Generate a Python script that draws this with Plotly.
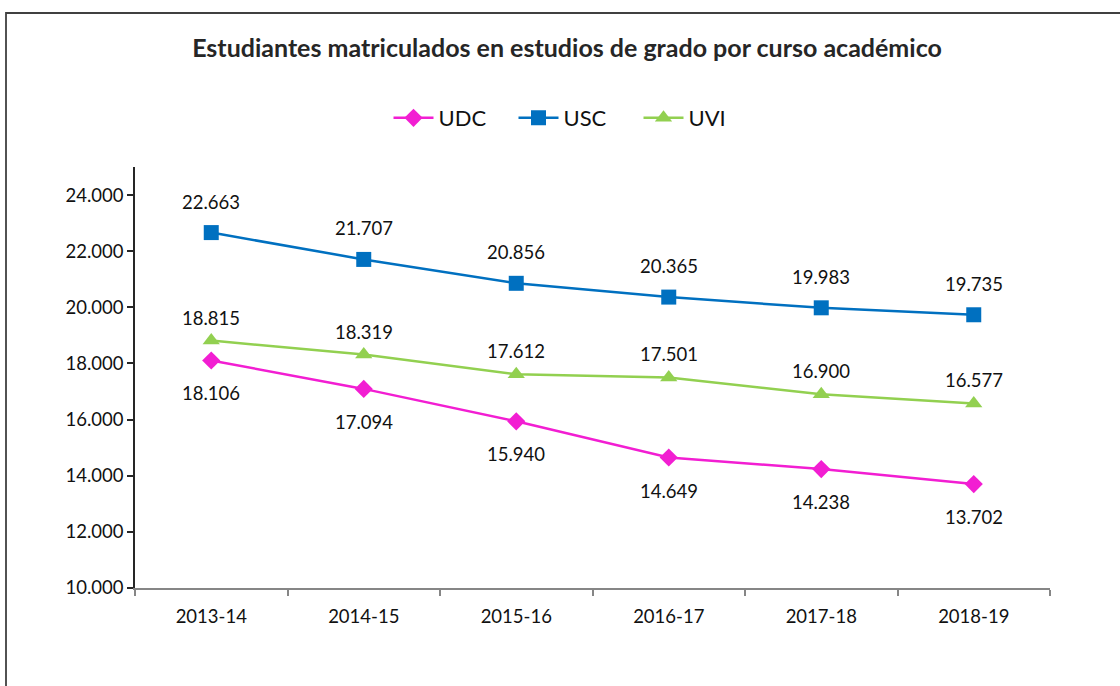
import plotly.graph_objects as go

categories = ["2013-14", "2014-15", "2015-16", "2016-17", "2017-18", "2018-19"]
udc = [18106, 17094, 15940, 14649, 14238, 13702]
usc = [22663, 21707, 20856, 20365, 19983, 19735]
uvi = [18815, 18319, 17612, 17501, 16900, 16577]
y_ticks = [10000, 12000, 14000, 16000, 18000, 20000, 22000, 24000]

FONT = "Lato"
W, H = 1120, 686
ML, MR, MT, MB = 135, 70, 167, 98

series = [
    ("UDC", udc, "#F21ED2", "diamond", 14, -33),
    ("USC", usc, "#0070C0", "square", 15, 31),
    ("UVI", uvi, "#92D050", "triangle-up", 15, 23),
]

fig = go.Figure()
annotations = []
for name, vals, color, sym, msize, shift in series:
    fig.add_trace(go.Scatter(
        x=categories, y=vals, name=name, mode="lines+markers",
        line=dict(color=color, width=2.5),
        marker=dict(symbol=sym, size=msize, color=color),
    ))
    for c, v in zip(categories, vals):
        annotations.append(dict(
            x=c, y=v, xref="x", yref="y", text=f"{v:,}".replace(",", "."),
            showarrow=False, yshift=shift,
            font=dict(family=FONT, size=18.5, color="#111111"),
        ))

pw = W - ML - MR
ph = H - MT - MB
frame = dict(
    type="rect", xref="paper", yref="paper",
    x0=(6 - ML) / pw, x1=(W + 20 - ML) / pw,
    y0=(H - MB - (H + 20)) / ph, y1=(H - MB - 13) / ph,
    line=dict(color="#404040", width=1.8), fillcolor="rgba(0,0,0,0)",
)

fig.update_layout(
    width=W, height=H,
    margin=dict(l=ML, r=MR, t=MT, b=MB),
    paper_bgcolor="white", plot_bgcolor="white",
    separators=",.",
    title=dict(
        text="<b>Estudiantes matriculados en estudios de grado por curso académico</b>",
        x=0.5 + 7 / W, xref="container", xanchor="center",
        y=1 - 48 / H, yref="container", yanchor="middle",
        font=dict(family=FONT, size=25, color="#262626"),
    ),
    legend=dict(
        orientation="h", xref="container", x=0.5 + 16 / W, xanchor="center",
        yref="container", y=1 - 118 / H, yanchor="middle",
        font=dict(family=FONT, size=22, color="#111111"),
        itemwidth=40, entrywidth=70, entrywidthmode="pixels",
    ),
    showlegend=True,
    annotations=annotations,
    shapes=[frame],
    font=dict(family=FONT, color="#111111"),
)

fig.update_xaxes(
    type="category", range=[-0.5, 5.5],
    showline=True, linecolor="#868686", linewidth=1.5,
    ticks="outside", tickson="boundaries", ticklen=6, tickcolor="#868686", tickwidth=1.5,
    showgrid=False, zeroline=False,
    tickfont=dict(family=FONT, size=18.5, color="#111111"),
    ticklabelstandoff=11,
)
fig.update_yaxes(
    range=[10000, 25000],
    tickvals=y_ticks, tickformat=",.0f",
    showline=True, linecolor="#262626", linewidth=1.5,
    ticks="outside", ticklen=6, tickcolor="#262626", tickwidth=1.5,
    showgrid=False, zeroline=False,
    tickfont=dict(family=FONT, size=18.5, color="#111111"),
    ticklabelstandoff=0,
)

fig.write_html("out.html", config={"displayModeBar": False},
               post_script="document.body.style.margin='0';")
